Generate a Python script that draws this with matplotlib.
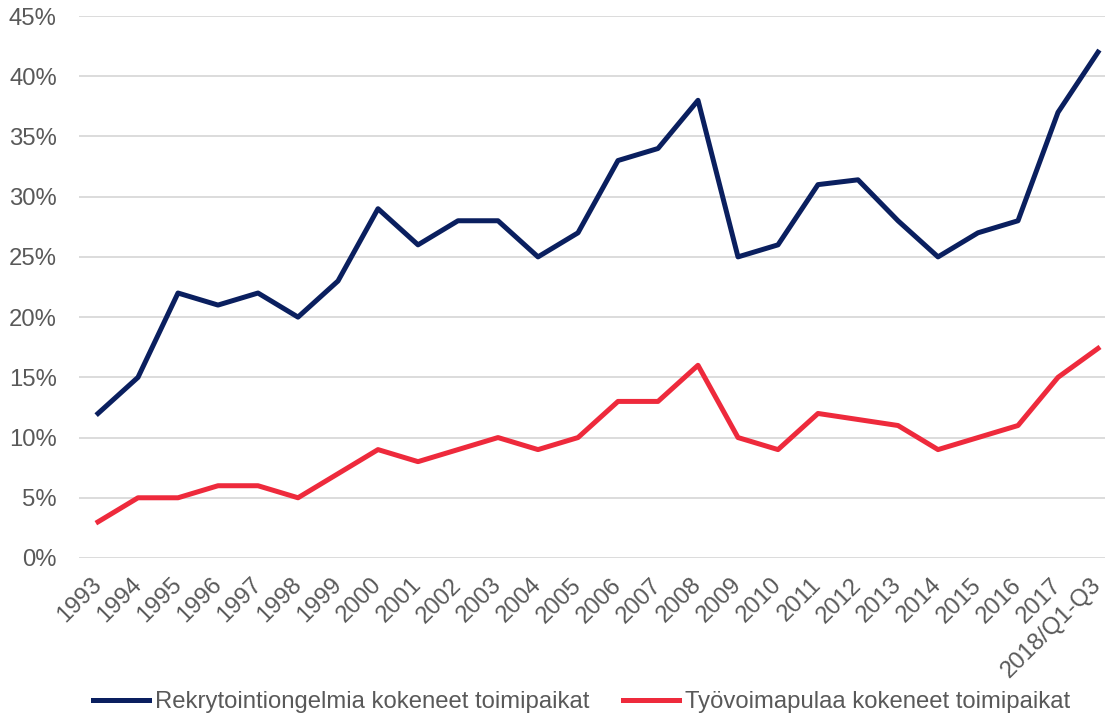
import matplotlib.pyplot as plt
from matplotlib.ticker import FuncFormatter

plt.rcParams['font.family'] = ['Liberation Sans', 'DejaVu Sans']

# data
years = ['1993', '1994', '1995', '1996', '1997', '1998', '1999', '2000', '2001',
         '2002', '2003', '2004', '2005', '2006', '2007', '2008', '2009', '2010',
         '2011', '2012', '2013', '2014', '2015', '2016', '2017', '2018/Q1-Q3']
rekry = [12, 15, 22, 21, 22, 20, 23, 29, 26, 28, 28, 25, 27, 33, 34, 38, 25, 26,
         31, 31.4, 28, 25, 27, 28, 37, 42]
tyovoima = [3, 5, 5, 6, 6, 5, 7, 9, 8, 9, 10, 9, 10, 13, 13, 16, 10, 9,
            12, 11.5, 11, 9, 10, 11, 15, 17.4]

label_rekry = 'Rekrytointiongelmia kokeneet toimipaikat'
label_tyo = 'Työvoimapulaa kokeneet toimipaikat'

W, H = 1105, 716
fig = plt.figure(figsize=(W / 100, H / 100), dpi=100)
ax = fig.add_axes([79 / W, (H - 558) / H, (W - 79) / W, 542 / H])

x = list(range(len(years)))
ax.plot(x, rekry, color='#0A1F5F', linewidth=3.6, label=label_rekry, solid_joinstyle='round')
ax.plot(x, tyovoima, color='#EE2A3C', linewidth=3.6, label=label_tyo, solid_joinstyle='round')

ax.set_ylim(0, 45)
ax.set_yticks(range(0, 46, 5))
ax.yaxis.set_major_formatter(FuncFormatter(lambda v, p: f'{int(v)}%'))
ax.set_xlim(-0.475, 25.175)
ax.set_xticks(x)
ax.set_xticklabels(years, rotation=45, ha='right', va='center', rotation_mode='anchor')

ax.grid(axis='y', color='#D9D9D9', linewidth=1.3)
ax.set_axisbelow(True)
for s in ax.spines.values():
    s.set_visible(False)
ax.tick_params(axis='both', length=0, labelsize=17.2, colors='#595959')
ax.tick_params(axis='y', pad=16)
ax.tick_params(axis='x', pad=17)

fig.legend(loc='center', bbox_to_anchor=(0.526, 1 - 702 / H), ncol=2, frameon=False,
           fontsize=17.2, labelcolor='#595959', handlelength=2.35, handletextpad=0.25,
           columnspacing=1.4)

plt.savefig('out.png', dpi=100)
